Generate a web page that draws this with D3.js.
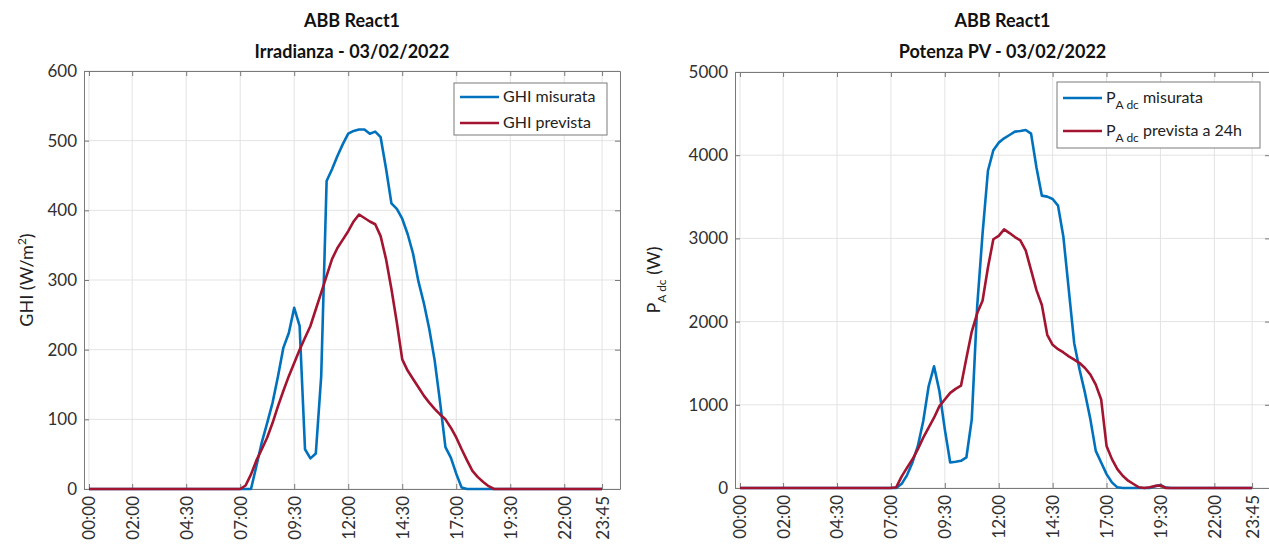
<!DOCTYPE html>
<html>
<head>
<meta charset="utf-8">
<script src="https://cdn.jsdelivr.net/npm/d3@7"></script>
<style>
  body { margin: 0; background: #fff; }
  svg { display: block; font-family: Lato, "Open Sans", sans-serif; }
</style>
</head>
<body>
<svg id="chart" width="1269" height="548"></svg>
<script>
// quarter-hour samples, 00:00 .. 23:45 (96 points)
var slots = d3.range(96);

// tick positions (hours) and their labels
var tickHours = [0, 2, 4.5, 7, 9.5, 12, 14.5, 17, 19.5, 22, 23.75];
var tickLabels = ["00:00", "02:00", "04:30", "07:00", "09:30", "12:00", "14:30", "17:00", "19:30", "22:00", "23:45"];

// GHI (W/m2)
var ghiMisurata = [
  0,0,0,0,0,0,0,0,0,0,0,0,0,0,0,0,0,0,0,0,0,0,0,0,0,0,0,0,   // 00:00-06:45
  0,0,0,33,67,95,124,162,203,224,260,234,                      // 07:00-09:45
  57,44,51,162,442,459,478,495,510,514,516,516,                // 10:00-12:45
  510,513,505,460,410,402,388,366,338,298,267,230,             // 13:00-15:45
  185,125,60,45,22,2,0,0,0,0,0,0,                              // 16:00-18:45
  0,0,0,0,0,0,0,0,0,0,0,0,0,0,0,0,0,0,0,0                      // 19:00-23:45
];
var ghiPrevista = [
  0,0,0,0,0,0,0,0,0,0,0,0,0,0,0,0,0,0,0,0,0,0,0,0,0,0,0,0,
  0,5,21,41,57,74,95,119,141,162,181,200,
  217,234,258,282,306,330,346,358,370,384,394,389,
  384,380,363,330,287,239,186,170,158,146,134,124,
  115,107,100,88,74,57,41,26,17,10,4,0,
  0,0,0,0,0,0,0,0,0,0,0,0,0,0,0,0,0,0,0,0
];

// P A dc (W)
var pMisurata = [
  0,0,0,0,0,0,0,0,0,0,0,0,0,0,0,0,0,0,0,0,0,0,0,0,0,0,0,0,
  0,0,50,155,307,506,805,1223,1462,1163,705,307,
  315,327,367,825,2180,3056,3813,4060,4151,4203,4243,4283,
  4290,4303,4259,3853,3514,3502,3474,3394,3016,2378,1741,1422,
  1143,825,446,307,167,68,8,0,0,0,0,0,
  0,20,35,5,0,0,0,0,0,0,0,0,0,0,0,0,0,0,0,0
];
var pPrevista = [
  0,0,0,0,0,0,0,0,0,0,0,0,0,0,0,0,0,0,0,0,0,0,0,0,0,0,0,0,
  0,10,140,245,345,466,606,725,845,984,1064,1143,
  1191,1230,1560,1880,2100,2250,2650,2990,3030,3108,3064,3016,
  2976,2857,2618,2378,2199,1841,1721,1669,1629,1582,1542,1502,
  1442,1363,1243,1064,506,347,227,147,88,48,8,0,
  10,25,30,0,0,0,0,0,0,0,0,0,0,0,0,0,0,0,0,0
];

var BLUE = "#0072bd", RED = "#a2142f";
var svg = d3.select("#chart");
svg.append("rect").attr("width", 1269).attr("height", 548).attr("fill", "#fff");

function panel(cfg) {
  var x = d3.scaleLinear().domain([-0.23, 24.58]).range([cfg.left, cfg.right]);
  var y = d3.scaleLinear().domain([0, cfg.ymax]).range([cfg.bottom, cfg.top]);
  var g = svg.append("g");

  // grid
  g.selectAll(".vg").data(tickHours).join("line")
    .attr("x1", d => x(d)).attr("x2", d => x(d))
    .attr("y1", cfg.top).attr("y2", cfg.bottom)
    .attr("stroke", "#e3e3e3").attr("stroke-width", 1);
  g.selectAll(".hg").data(cfg.yticks).join("line")
    .attr("x1", cfg.left).attr("x2", cfg.right)
    .attr("y1", d => y(d)).attr("y2", d => y(d))
    .attr("stroke", "#e3e3e3").attr("stroke-width", 1);

  // axes: bottom with rotated labels, left, plus the mirrored box sides
  var xb = g.append("g").attr("transform", "translate(0," + cfg.bottom + ")")
    .call(d3.axisBottom(x).tickValues(tickHours).tickSizeInner(-5).tickSizeOuter(0)
      .tickFormat((d, i) => tickLabels[i]));
  xb.selectAll("text")
    .attr("transform", "rotate(-90)")
    .attr("text-anchor", "end")
    .attr("x", -7).attr("y", 0).attr("dy", "0.35em");
  var xt = g.append("g").attr("transform", "translate(0," + cfg.top + ")")
    .call(d3.axisTop(x).tickValues(tickHours).tickSizeInner(-5).tickSizeOuter(0).tickFormat(""));
  var yl = g.append("g").attr("transform", "translate(" + cfg.left + ",0)")
    .call(d3.axisLeft(y).tickValues(cfg.yticks).tickSizeInner(-5).tickSizeOuter(0).tickPadding(7)
      .tickFormat(d3.format("d")));
  var yr = g.append("g").attr("transform", "translate(" + cfg.right + ",0)")
    .call(d3.axisRight(y).tickValues(cfg.yticks).tickSizeInner(-5).tickSizeOuter(0).tickFormat(""));
  [xb, xt, yl, yr].forEach(a => {
    a.selectAll("path,line").attr("stroke", "#7a7a7a");
    a.selectAll("text").attr("fill", "#303030").style("font-size", "17px")
      .style("font-family", "Lato, sans-serif");
  });

  // series
  var line = d3.line().x(d => x(d[0] / 4)).y(d => y(d[1]));
  cfg.series.forEach(s => {
    g.append("path")
      .datum(slots.map(i => [i, s.values[i]]))
      .attr("d", line).attr("fill", "none")
      .attr("stroke", s.color).attr("stroke-width", 2.6)
      .attr("stroke-linejoin", "round");
  });

  // titles
  var cx = (cfg.left + cfg.right) / 2;
  g.append("text").attr("x", cx).attr("y", 27).attr("text-anchor", "middle")
    .attr("font-weight", "bold").attr("font-size", 18).attr("fill", "#111").text("ABB React1");
  g.append("text").attr("x", cx).attr("y", 58).attr("text-anchor", "middle")
    .attr("font-weight", "bold").attr("font-size", 18).attr("fill", "#111").text(cfg.title);

  // y label
  var yt = g.append("text").attr("transform", "translate(" + cfg.ylabX + "," + ((cfg.top + cfg.bottom) / 2) + ") rotate(-90)")
    .attr("text-anchor", "middle").attr("font-size", 18).attr("fill", "#222");
  cfg.ylab(yt);

  // legend
  var lg = g.append("g");
  lg.append("rect").attr("x", cfg.leg.x).attr("y", cfg.leg.y).attr("width", cfg.leg.w).attr("height", cfg.leg.h)
    .attr("fill", "#fff").attr("stroke", "#7a7a7a").attr("stroke-width", 1);
  cfg.series.forEach((s, i) => {
    var ly = cfg.leg.y + cfg.leg.row0 + i * cfg.leg.step;
    lg.append("line").attr("x1", cfg.leg.x + 6).attr("x2", cfg.leg.x + 45)
      .attr("y1", ly).attr("y2", ly).attr("stroke", s.color).attr("stroke-width", 2.6);
    var t = lg.append("text").attr("x", cfg.leg.x + 49).attr("y", ly + 5)
      .attr("font-size", 16).attr("fill", "#222");
    s.label(t);
  });
}

function pAdc(t) {
  t.append("tspan").text("P");
  t.append("tspan").attr("font-size", 12).attr("dy", 6).text("A dc");
  return t.append("tspan").attr("dy", -6);
}

panel({
  left: 84, right: 620, top: 71, bottom: 489, ymax: 600,
  yticks: [0, 100, 200, 300, 400, 500, 600],
  title: "Irradianza - 03/02/2022",
  ylabX: 33,
  ylab: t => {
    t.append("tspan").text("GHI (W/m");
    t.append("tspan").attr("font-size", 12).attr("dy", -7).text("2");
    t.append("tspan").attr("dy", 7).text(")");
  },
  leg: { x: 454, y: 83, w: 153, h: 52, row0: 14, step: 26 },
  series: [
    { values: ghiMisurata, color: BLUE, label: t => t.text("GHI misurata") },
    { values: ghiPrevista, color: RED, label: t => t.text("GHI prevista") }
  ]
});

panel({
  left: 735, right: 1270, top: 72, bottom: 488, ymax: 5000,
  yticks: [0, 1000, 2000, 3000, 4000, 5000],
  title: "Potenza PV - 03/02/2022",
  ylabX: 660,
  ylab: t => { pAdc(t).text(" (W)"); },
  leg: { x: 1057, y: 82, w: 203, h: 66, row0: 16, step: 33 },
  series: [
    { values: pMisurata, color: BLUE, label: t => { pAdc(t).text(" misurata"); } },
    { values: pPrevista, color: RED, label: t => { pAdc(t).text(" prevista a 24h"); } }
  ]
});
</script>
</body>
</html>
